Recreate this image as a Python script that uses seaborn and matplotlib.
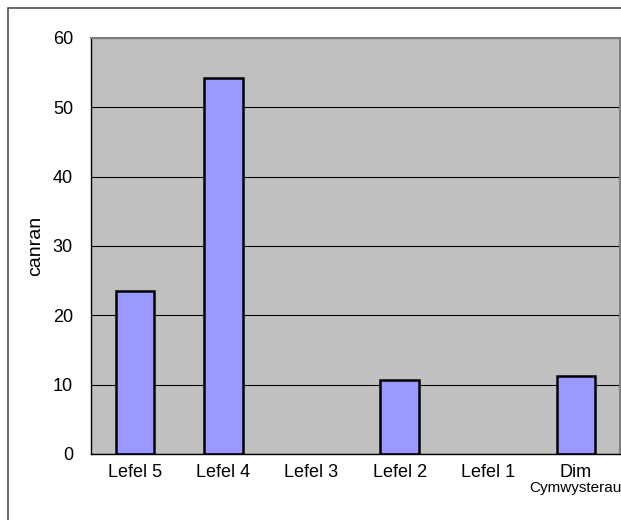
import matplotlib
matplotlib.use('Agg')
import matplotlib.pyplot as plt
from matplotlib.patches import Rectangle
import numpy as np
import pandas as pd
import seaborn as sns

categories = ['Lefel 5', 'Lefel 4', 'Lefel 3', 'Lefel 2', 'Lefel 1', 'Dim Cymwysterau']
tick_labels = ['Lefel 5', 'Lefel 4', 'Lefel 3', 'Lefel 2', 'Lefel 1', 'Dim']
sub_label = 'Cymwysterau'
values = [23.5, 54.2, 0, 10.7, 0, 11.3]
y_ticks = [0, 10, 20, 30, 40, 50, 60]


def plot_chart():
    sns.set_style('white')
    plt.rcParams['font.family'] = ['Liberation Sans', 'DejaVu Sans']
    plt.rcParams['text.color'] = 'black'
    plt.rcParams['axes.labelcolor'] = 'black'
    plt.rcParams['xtick.color'] = 'black'
    plt.rcParams['ytick.color'] = 'black'

    df = pd.DataFrame({'level': categories, 'canran': values})

    fig = plt.figure(figsize=(6.21, 5.2), dpi=100)
    ax = fig.add_axes([91 / 621, 1 - 454 / 520, 529 / 621, 416 / 520])

    sns.barplot(data=df
                , x='level'
                , y='canran'
                , color='#9999FF'
                , saturation=1
                , width=0.44
                , edgecolor='black'
                , linewidth=1.8
                , ax=ax
                )

    # empty categories show no bar outline
    for bar in ax.patches:
        if bar.get_height() == 0:
            bar.set_linewidth(0)

    ax.set_facecolor('#C0C0C0')
    ax.set_xlim(-0.5, 5.5)
    ax.set_ylim(0, 60)
    ax.set_yticks(y_ticks)
    ax.set_axisbelow(True)
    ax.yaxis.grid(True, color='black', linewidth=0.8)
    ax.xaxis.grid(False)

    # category labels without ticks, boundary ticks as minor ticks
    ax.set_xticks(range(len(tick_labels)))
    ax.set_xticklabels(tick_labels)
    ax.set_xticks(np.arange(-0.5, 6, 1), minor=True)
    ax.tick_params(axis='x', which='major', length=0, pad=7, labelsize=13, labelcolor='black')
    ax.tick_params(axis='x', which='minor', length=4, width=0.8, color='black', direction='out')
    ax.tick_params(axis='y', length=4, width=0.8, color='black', direction='out', pad=9,
                   labelsize=13, labelcolor='black')
    ax.text(5, -0.064, sub_label, transform=ax.get_xaxis_transform(),
            ha='center', va='top', fontsize=11, color='black', clip_on=False)

    ax.set_xlabel('')
    ax.set_ylabel('canran', fontsize=14, color='black')
    ax.yaxis.set_label_coords(-0.088, 0.5)

    for side in ['left', 'bottom']:
        ax.spines[side].set_color('black')
        ax.spines[side].set_linewidth(1)
    for side in ['top', 'right']:
        ax.spines[side].set_color('#808080')
        ax.spines[side].set_linewidth(1.5)

    # outer frame of the chart
    fig.patches.append(Rectangle((8 / 621, -0.1), 1.2, 1.1 - 8 / 520,
                                 transform=fig.transFigure, fill=False,
                                 edgecolor='#505050', linewidth=1.2))

    fig.savefig('out.png', dpi=100, facecolor='white')


plot_chart()
